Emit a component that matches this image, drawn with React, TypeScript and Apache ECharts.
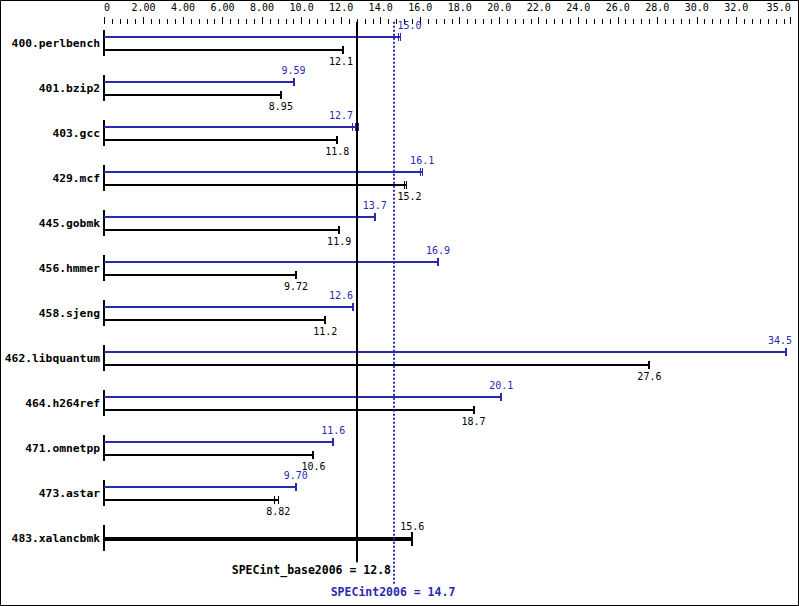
import React, { useEffect, useRef } from "react";
import * as echarts from "echarts";

const BENCHMARKS = [
  "400.perlbench", "401.bzip2", "403.gcc", "429.mcf", "445.gobmk", "456.hmmer",
  "458.sjeng", "462.libquantum", "464.h264ref", "471.omnetpp", "473.astar", "483.xalancbmk",
];
const PEAK: (number | null)[] = [15.0, 9.59, 12.7, 16.1, 13.7, 16.9, 12.6, 34.5, 20.1, 11.6, 9.7, null];
const BASE = [12.1, 8.95, 11.8, 15.2, 11.9, 9.72, 11.2, 27.6, 18.7, 10.6, 8.82, 15.6];
const PEAK_RUNS = [[14.9, 15.0], [9.59], [12.55, 12.7, 12.85], [16.0, 16.1], [13.7], [16.9], [12.6], [34.5], [20.1], [11.6], [9.7], []];
const BASE_RUNS = [[12.1], [8.95], [11.8], [15.2, 15.3], [11.9], [9.72], [11.2], [27.6], [18.7], [10.6], [8.6, 8.82], [15.6]];
const BASE_SCORE = 12.8;
const PEAK_SCORE = 14.7;
const BASE_SCORE_LABEL = "SPECint_base2006 = 12.8";
const PEAK_SCORE_LABEL = "SPECint2006 = 14.7";
const TICK_VALUES = [0, 2, 4, 6, 8, 10, 12, 14, 16, 18, 20, 22, 24, 26, 28, 30, 32, 34.75];
const TICK_LABELS = ["0", "2.00", "4.00", "6.00", "8.00", "10.0", "12.0", "14.0", "16.0", "18.0", "20.0", "22.0", "24.0", "26.0", "28.0", "30.0", "32.0", "35.0"];

const X_MAX = 34.75;
const Y_MIN = -19.3 / 45;
const Y_MAX = 12;
const ROW_PX = 45;
const BLUE = "#2a2aaf";
const MONO = '"DejaVu Sans Mono", monospace';

const MINOR_TICKS: number[] = [];
for (let k = 1; k <= 86; k++) {
  const v = +(k * 0.4).toFixed(1);
  if (k % 5 === 0 && v <= 32) continue;
  MINOR_TICKS.push(v);
}

export default function App() {
  const ref = useRef<HTMLDivElement>(null);
  useEffect(() => {
    document.body.style.margin = "0";
    const chart = echarts.init(ref.current!, null, { renderer: "svg" });

    const rowSeries = {
      type: "custom",
      xAxisIndex: 0,
      yAxisIndex: 0,
      clip: false,
      z: 2,
      data: BENCHMARKS.map((_, i) => [BASE[i], i]),
      encode: { x: 0, y: 1 },
      renderItem: (params: any, api: any) => {
        const i = params.dataIndex;
        const origin = api.coord([0, i]);
        const x0 = Math.round(origin[0]);
        const rowY = origin[1];
        const children: any[] = [];
        const avoid = [api.coord([BASE_SCORE, 0])[0], api.coord([PEAK_SCORE, 0])[0]];
        const maxRight = api.getWidth() - 7;
        children.push({
          type: "line",
          shape: { x1: x0, y1: Math.round(rowY - 13), x2: x0, y2: Math.round(rowY + 13) },
          style: { stroke: "#000", lineWidth: 2 },
        });
        const drawBar = (value: number, runs: number[], y: number, color: string, width: number, capHalf: number, labelDy: number) => {
          const end = Math.max(value, ...runs);
          const xe = api.coord([end, i])[0];
          children.push({
            type: "line",
            shape: { x1: x0, y1: y, x2: xe, y2: y },
            style: { stroke: color, lineWidth: width },
          });
          const capW = runs.length > 1 ? 1 : 2;
          runs.forEach((r) => {
            let xr = Math.round(api.coord([r, i])[0]);
            if (capW === 1) xr += 0.5;
            children.push({
              type: "line",
              shape: { x1: xr, y1: y - capHalf, x2: xr, y2: y + capHalf },
              style: { stroke: color, lineWidth: capW },
            });
          });
          const text = value.toPrecision(3);
          const half = text.length * 3;
          const cx = api.coord([value, i])[0];
          let left = cx - half;
          avoid.forEach((L: number) => {
            if (left - 5 < L && left + 2 * half + 5 > L) {
              left = cx < L ? L - 4 - 2 * half : L + 3;
            }
          });
          left = Math.min(left, maxRight - 2 * half);
          children.push({
            type: "text",
            x: left + half,
            y: y + labelDy,
            style: {
              text,
              fill: color === BLUE ? BLUE : "#000",
              fontSize: 10,
              fontFamily: MONO,
              align: "center",
              verticalAlign: "middle",
            },
          });
        };
        const peak = PEAK[i];
        if (peak != null) {
          drawBar(peak, PEAK_RUNS[i], Math.round(rowY - 6), BLUE, 2, 4, -11.5);
          drawBar(BASE[i], BASE_RUNS[i], Math.round(rowY + 6.5), "#000", 2, 4, 11.5);
        } else {
          drawBar(BASE[i], BASE_RUNS[i], Math.round(rowY + 1), "#000", 4, 7, -12.5);
        }
        return { type: "group", children };
      },
    };

    const summarySeries = {
      type: "custom",
      xAxisIndex: 0,
      yAxisIndex: 0,
      clip: false,
      z: 5,
      data: [[BASE_SCORE, 0]],
      encode: { x: 0, y: 1 },
      renderItem: (_params: any, api: any) => {
        const top = api.coord([BASE_SCORE, -0.48]);
        const bx = Math.round(top[0]);
        const bBottom = api.coord([BASE_SCORE, 11.53])[1];
        const px = Math.round(api.coord([PEAK_SCORE, 0])[0]);
        const pBottom = api.coord([PEAK_SCORE, 12.02])[1];
        return {
          type: "group",
          children: [
            {
              type: "line",
              shape: { x1: bx, y1: top[1], x2: bx, y2: bBottom },
              style: { stroke: "#000", lineWidth: 2 },
            },
            {
              type: "line",
              shape: { x1: px, y1: top[1], x2: px, y2: pBottom },
              style: { stroke: BLUE, lineWidth: 2, lineDash: [2, 2] },
            },
            {
              type: "text",
              x: px - 3,
              y: bBottom + 8,
              style: {
                text: BASE_SCORE_LABEL,
                fill: "#000",
                fontSize: 11.5,
                fontWeight: "bold",
                fontFamily: MONO,
                align: "right",
                verticalAlign: "middle",
              },
            },
            {
              type: "text",
              x: px - 1,
              y: pBottom + 7.5,
              style: {
                text: PEAK_SCORE_LABEL,
                fill: BLUE,
                fontSize: 11.5,
                fontWeight: "bold",
                fontFamily: MONO,
                align: "center",
                verticalAlign: "middle",
              },
            },
          ],
        };
      },
    };

    const option: any = {
      animation: false,
      backgroundColor: "#fff",
      grid: {
        left: 104,
        right: 8.3,
        top: 24,
        height: ROW_PX * (Y_MAX - Y_MIN),
        containLabel: false,
        outerBoundsMode: "none",
      },
      xAxis: [
        {
          type: "value",
          position: "top",
          min: 0,
          max: X_MAX,
          axisLine: { show: false, onZero: false },
          axisTick: { show: true, customValues: TICK_VALUES, length: 7, lineStyle: { color: "#000", width: 1 } },
          axisLabel: {
            customValues: TICK_VALUES,
            formatter: (v: number) => {
              const k = TICK_VALUES.indexOf(v);
              return k >= 0 ? TICK_LABELS[k] : "";
            },
            alignMinLabel: "left",
            alignMaxLabel: "right",
            margin: 12,
            color: "#000",
            fontSize: 10,
            fontFamily: MONO,
          },
          splitLine: { show: false },
        },
        {
          type: "value",
          position: "top",
          offset: 0,
          min: 0,
          max: X_MAX,
          axisLine: { show: false, onZero: false },
          axisTick: { show: true, customValues: MINOR_TICKS, length: 5, lineStyle: { color: "#000", width: 1 } },
          axisLabel: { show: false },
          splitLine: { show: false },
        },
      ],
      yAxis: {
        type: "value",
        inverse: true,
        min: Y_MIN,
        max: Y_MAX,
        axisLine: { show: false, onZero: false },
        axisTick: { show: false },
        splitLine: { show: false },
        axisLabel: {
          customValues: BENCHMARKS.map((_, i) => i),
          formatter: (v: number) => BENCHMARKS[Math.round(v)] ?? "",
          margin: 4,
          color: "#000",
          fontSize: 11.3,
          fontWeight: "bold",
          fontFamily: MONO,
        },
      },
      graphic: [
        {
          type: "rect",
          shape: { x: 0.5, y: 0.5, width: 798, height: 605 },
          style: { fill: "none", stroke: "#000", lineWidth: 1 },
          z: 10,
        },
      ],
      series: [rowSeries, summarySeries],
    };
    chart.setOption(option);
    return () => chart.dispose();
  }, []);
  return <div ref={ref} style={{ position: "fixed", left: 0, top: 0, width: 799, height: 606 }} />;
}
